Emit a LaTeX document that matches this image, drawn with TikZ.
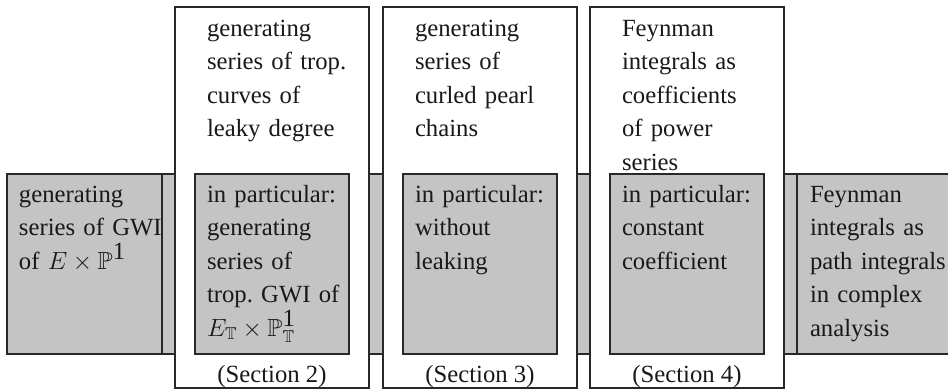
\documentclass[tikz,border=0pt]{standalone}
\usepackage{fontspec}
\setmainfont{Liberation Serif}
\usepackage{amssymb}
\definecolor{boxgray}{RGB}{196,196,196}
\definecolor{edge}{RGB}{40,40,40}
\definecolor{ink}{RGB}{25,25,25}
\newcommand{\one}{\textrm{1}}
\begin{document}
\begin{tikzpicture}[x=1pt,y=-1pt,
  frame/.style={draw=edge,line width=1.3pt},
  shaded/.style={frame,fill=boxgray},
  blank/.style={frame,fill=white},
  txt/.style={anchor=base west,inner sep=0pt,outer sep=0pt,text width=150pt,
    align=left,text=ink,font=\fontsize{24.7}{33.5}\selectfont},
  sect/.style={anchor=base,inner sep=0pt,text=ink,font=\fontsize{24.7}{33.5}\selectfont}]
\useasboundingbox (0,0) rectangle (948,389);

% horizontal band and the two outer boxes
\draw[shaded] (7,174) rectangle (960,354);
\draw[frame] (7,174) rectangle (162,354);
\draw[frame] (797,174) rectangle (960,354);

% three tall white columns with their shaded inner boxes
\foreach \l in {175,383,590} {
  \draw[blank] (\l,7) rectangle ({\l+194},388);
  \draw[shaded] ({\l+20},174) rectangle ({\l+174},354);
}

% outer boxes
\node[txt] (gwi) at (19,202) {generating\\series of GWI\\of $E\times\mathbb{P}^{\one}$};
\node[txt] (path) at (810,202) {Feynman\\integrals as\\path integrals\\in complex\\analysis};

% column 1
\node[txt] (leaky) at (207,36) {generating\\series of trop.\\curves of\\leaky degree};
\node[txt] (tropgwi) at (207,202) {in particular:\\generating\\series of\\trop.\ GWI of\\$E_{\mathbb{T}}\times\mathbb{P}^{\one}_{\mathbb{T}}$};
\node[sect] (s2) at (272,382) {(Section 2)};

% column 2
\node[txt] (pearl) at (415,36) {generating\\series of\\curled pearl\\chains};
\node[txt] (noleak) at (415,202) {in particular:\\without\\leaking};
\node[sect] (s3) at (480,382) {(Section 3)};

% column 3
\node[txt] (power) at (622,36) {Feynman\\integrals as\\coefficients\\of power\\series};
\node[txt] (const) at (622,202) {in particular:\\constant\\coefficient};
\node[sect] (s4) at (687,382) {(Section 4)};
\end{tikzpicture}
\end{document}
